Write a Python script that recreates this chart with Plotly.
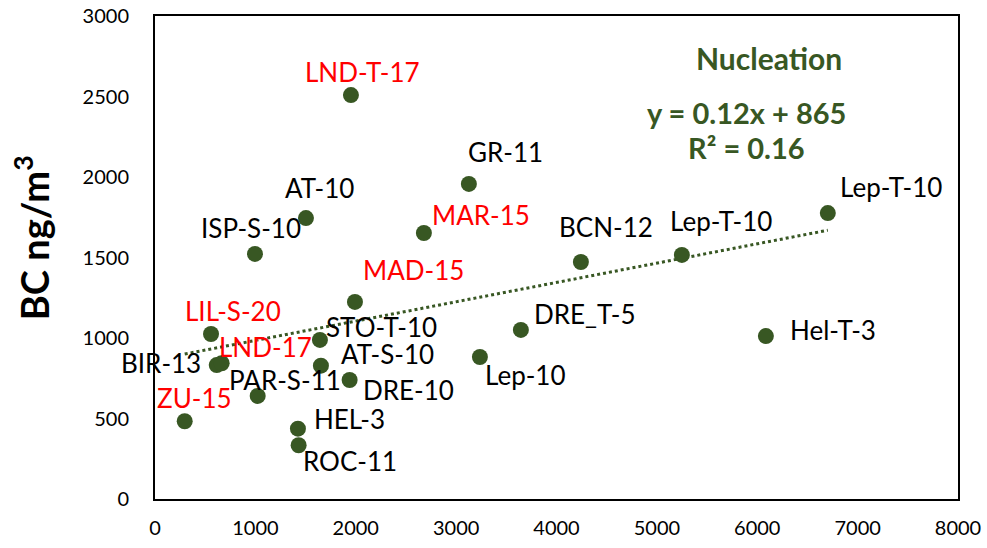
import plotly.graph_objects as go

# Black carbon vs. nucleation-mode particle counts per site campaign
sites = ["LND-T-17", "GR-11", "AT-10", "MAR-15", "ISP-S-10", "BCN-12", "Lep-T-10",
         "Lep-T-10", "MAD-15", "LIL-S-20", "STO-T-10", "DRE_T-5", "Hel-T-3", "BIR-13",
         "LND-17", "AT-S-10", "Lep-10", "DRE-10", "PAR-S-11", "ZU-15", "HEL-3", "ROC-11"]
nucleation = [1952, 3127, 1504, 2679, 996, 4243, 5249, 6703, 1992, 558, 1643, 3645,
              6086, 615, 664, 1653, 3237, 1939, 1023, 296, 1424, 1431]
bc = [2509, 1957, 1745, 1652, 1522, 1472, 1516, 1776, 1224, 1025, 988, 1050,
      1012, 832, 843, 828, 882, 739, 640, 483, 437, 334]
highlighted = {"LND-T-17", "MAR-15", "MAD-15", "LIL-S-20", "LND-17", "ZU-15"}

# Linear fit reported on the chart
slope = 0.12
intercept = 865
r_squared = 0.16

x_ticks = [0, 1000, 2000, 3000, 4000, 5000, 6000, 7000, 8000]
y_ticks = [0, 500, 1000, 1500, 2000, 2500, 3000]

# label offsets (pixels) from each marker to the label centre
label_offsets = [(12, -23), (37, -32), (14, -30), (57, -18), (-4, -26), (25, -35),
                 (39, -34), (63, -26), (59, -32), (22, -23), (62, -13), (64, -16),
                 (67, -6), (-56, -2), (44, -16), (67, -12), (46, 18), (59, 10),
                 (27, -16), (10, -23), (52, -10), (51, 16)]

GREEN = "#385723"
FONT = "Lato"

fig = go.Figure()

x_min, x_max = min(nucleation), max(nucleation)
fig.add_trace(go.Scatter(
    x=[x_min, x_max], y=[slope * x_min + intercept, slope * x_max + intercept],
    mode="lines", line=dict(color=GREEN, width=3, dash="dot"),
    hoverinfo="skip", showlegend=False))

fig.add_trace(go.Scatter(
    x=nucleation, y=bc, mode="markers",
    marker=dict(color=GREEN, size=16, line=dict(width=0)),
    showlegend=False))

for name, xv, yv, (dx, dy) in zip(sites, nucleation, bc, label_offsets):
    fig.add_annotation(
        x=xv, y=yv, xref="x", yref="y", text=name, showarrow=False,
        xanchor="center", yanchor="middle",
        xshift=dx, yshift=-dy,
        font=dict(family=FONT, size=26,
                  color="#ff0000" if name in highlighted else "#000000"))

fig.add_annotation(x=0.765, y=0.913, xref="paper", yref="paper", showarrow=False,
                   xanchor="center", yanchor="middle",
                   text="<b>Nucleation</b>", font=dict(family=FONT, size=30, color=GREEN))
fig.add_annotation(x=0.736, y=0.801, xref="paper", yref="paper", showarrow=False,
                   xanchor="center", yanchor="middle",
                   text=f"<b>y = {slope}x + {intercept}</b>",
                   font=dict(family=FONT, size=29, color=GREEN))
fig.add_annotation(x=0.736, y=0.727, xref="paper", yref="paper", showarrow=False,
                   xanchor="center", yanchor="middle",
                   text=f"<b>R² = {r_squared}</b>",
                   font=dict(family=FONT, size=29, color=GREEN))

fig.add_annotation(x=0, y=0.54, xref="paper", yref="paper", xshift=-123,
                   xanchor="center", yanchor="middle",
                   showarrow=False, textangle=-90,
                   text="<b>BC ng/m<sup>3</sup></b>",
                   font=dict(family=FONT, size=38, color="#000000"))

axis_common = dict(showgrid=False, zeroline=False, showline=True, linecolor="#000000",
                   linewidth=2, mirror=True, ticks="", automargin=False,
                   tickfont=dict(family=FONT, size=20, color="#000000"))

fig.update_xaxes(range=[0, 8000], tickvals=x_ticks, ticklabelstandoff=10, **axis_common)
fig.update_yaxes(range=[0, 3000], tickvals=y_ticks, ticklabelstandoff=20, **axis_common)

fig.update_layout(width=987, height=548,
                  margin=dict(l=155, r=29, t=16, b=49),
                  plot_bgcolor="#ffffff", paper_bgcolor="#ffffff")

fig.write_html("out.html")
